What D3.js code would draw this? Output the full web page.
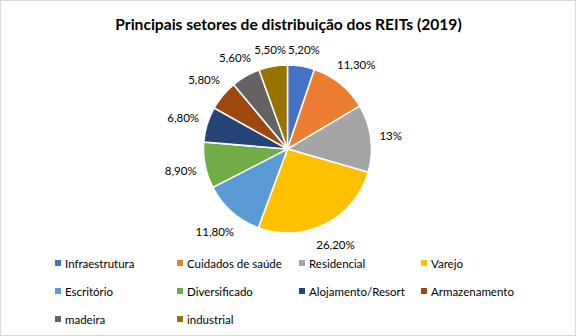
<!DOCTYPE html>
<html><head><meta charset="utf-8">
<script src="https://cdn.jsdelivr.net/npm/d3@7"></script>
<style>body{margin:0;background:#fff}svg{display:block}</style>
</head><body>
<script>
const categories = ["Infraestrutura","Cuidados de saúde","Residencial","Varejo","Escritório","Diversificado","Alojamento/Resort","Armazenamento","madeira","industrial"];
const values = [5.2, 11.3, 13, 26.2, 11.8, 8.9, 6.8, 5.8, 5.6, 5.5];
const labels = ["5,20%","11,30%","13%","26,20%","11,80%","8,90%","6,80%","5,80%","5,60%","5,50%"];
const colors = ["#4472C4","#ED7D31","#A5A5A5","#FFC000","#5B9BD5","#70AD47","#264478","#9E480E","#636363","#997300"];
const title = "Principais setores de distribuição dos REITs (2019)";

const W = 576, H = 336;
const font = "Lato, 'Open Sans', sans-serif";
const svg = d3.select("body").append("svg").attr("width", W).attr("height", H);
svg.append("rect").attr("x",0.5).attr("y",0.5).attr("width",W-1).attr("height",H-1)
  .attr("fill","#fff").attr("stroke","#d9d9d9");

svg.append("text").attr("x", 288.5).attr("y", 30).attr("text-anchor","middle")
  .attr("font-family", font).attr("font-weight","bold").attr("font-size",15.6).attr("fill","#000").text(title);

const cx = 287.5, cy = 149, r = 84;
const pie = d3.pie().sort(null).value(d => d)(values);
const arc = d3.arc().innerRadius(0).outerRadius(r);
const g = svg.append("g").attr("transform", `translate(${cx},${cy})`);
g.selectAll("path").data(pie).join("path")
  .attr("d", arc).attr("fill", (d,i) => colors[i]).attr("stroke","#fff").attr("stroke-width",1.5);

const lab = g.selectAll("text.lab").data(pie).join("text").attr("class","lab")
  .attr("font-family", font).attr("font-size",11.5).attr("fill","#000")
  .attr("text-anchor","middle").attr("dominant-baseline","central").text((d,i)=>labels[i]);
lab.each(function(d){
  const a = (d.startAngle + d.endAngle)/2;
  const bb = this.getBBox();
  const s = Math.sin(a), c = Math.cos(a);
  const dist = r + 8 + Math.abs(s)*bb.width/2 + Math.abs(c)*bb.height/2;
  d3.select(this).attr("x", s*dist).attr("y", -c*dist);
});

const colX = [58, 180, 302, 424], rowY = [263, 291, 319];
const leg = svg.append("g");
categories.forEach((c,i) => {
  const x = colX[i%4], y = rowY[Math.floor(i/4)];
  leg.append("rect").attr("x", x-3).attr("y", y-3).attr("width",6).attr("height",6).attr("fill", colors[i]);
  leg.append("text").attr("x", x+7).attr("y", y).attr("dominant-baseline","central")
    .attr("font-family", font).attr("font-size",11.5).attr("fill","#000").text(c);
});
</script>
</body></html>
